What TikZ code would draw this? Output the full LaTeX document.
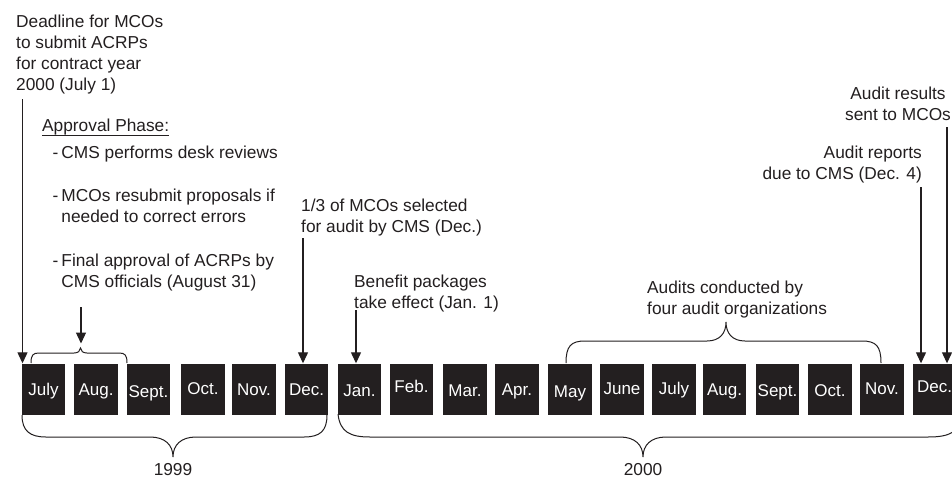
\documentclass[tikz,border=0pt]{standalone}
\usepackage{fontspec}
\setmainfont{Liberation Sans}
\usetikzlibrary{arrows.meta}
\definecolor{ink}{HTML}{231F20}
\begin{document}
\begin{tikzpicture}[x=1pt,y=-1pt,
  txt/.style={inner sep=0pt, text=ink, font=\fontsize{17.3}{21}\selectfont},
  mon/.style={fill=ink, text=white, inner sep=0pt, minimum width=43.5pt, minimum height=51pt,
              text depth=0pt, font=\fontsize{17}{20}\selectfont},
  arr/.style={draw=ink, line width=1.2pt, -{Triangle[length=11pt,width=10pt]}},
  brace/.style={draw=ink, line width=1pt}]
\path[use as bounding box, fill=white] (0,0) rectangle (952,479);

% month boxes
\node[mon, text height=12pt] (m1)  at (43.5,389)  {July};
\node[mon, text height=12pt] (m2)  at (96,389)    {Aug.};
\node[mon, text height=16pt] (m3)  at (148.5,389) {Sept.};
\node[mon, text height=10pt] (m4)  at (203,389)   {Oct.};
\node[mon, text height=12pt] (m5)  at (254,389)   {Nov.};
\node[mon, text height=12pt] (m6)  at (306.5,389) {Dec.};
\node[mon, text height=14pt] (m7)  at (359.5,389) {Jan.};
\node[mon, text height=6pt]  (m8)  at (411.5,389) {Feb.};
\node[mon, text height=14pt] (m9)  at (465,389)   {Mar.};
\node[mon, text height=12pt] (m10) at (517,389)   {Apr.};
\node[mon, text height=16pt] (m11) at (570,389)   {May};
\node[mon, text height=10pt] (m12) at (622,389)   {June};
\node[mon, text height=10pt] (m13) at (674,389)   {July};
\node[mon, text height=12pt] (m14) at (724.5,389) {Aug.};
\node[mon, text height=14pt] (m15) at (777.5,389) {Sept.};
\node[mon, text height=14pt] (m16) at (830,389)   {Oct.};
\node[mon, text height=10pt] (m17) at (882,389)   {Nov.};
\node[mon, text height=6pt]  (m18) at (934.5,389) {Dec.};

% texts
\node[txt, anchor=base west] (deadline) at (16,27.3)
  {\begin{tabular}[t]{@{}l@{}}Deadline for MCOs\\to submit ACRPs\\for contract year\\2000 (July 1)\end{tabular}};
\node[txt, anchor=base west] (appr) at (42,131.7) {Approval Phase:};
\draw[ink, line width=0.9pt] ([yshift=-3.6pt]appr.base west) -- ([yshift=-3.6pt]appr.base east);
\node[txt, anchor=base west] (i1) at (52.5,158.3)
  {\begin{tabular}[t]{@{}l@{\hspace{3pt}}l@{}}-&CMS performs desk reviews\end{tabular}};
\node[txt, anchor=base west] (i2) at (52.5,201.7)
  {\begin{tabular}[t]{@{}l@{\hspace{3pt}}l@{}}-&MCOs resubmit proposals if\\&needed to correct errors\end{tabular}};
\node[txt, anchor=base west] (i3) at (52.5,266)
  {\begin{tabular}[t]{@{}l@{\hspace{3pt}}l@{}}-&Final approval of ACRPs by\\&CMS officials (August 31)\end{tabular}};
\node[txt, anchor=base west] (sel) at (301,211.7)
  {\begin{tabular}[t]{@{}l@{}}1/3 of MCOs selected\\for audit by CMS (Dec.)\end{tabular}};
\node[txt, anchor=base west] (ben) at (354,287.5)
  {\begin{tabular}[t]{@{}l@{}}Benefit packages\\take effect (Jan. 1)\end{tabular}};
\node[txt, anchor=base west] (aud) at (647,293.5)
  {\begin{tabular}[t]{@{}l@{}}Audits conducted by\\four audit organizations\end{tabular}};
\node[txt, anchor=base] (res) at (898,99.3)
  {\begin{tabular}[t]{@{}c@{}}Audit results\\sent to MCOs\end{tabular}};
\node[txt, anchor=base east] (rep) at (922,158.3)
  {\begin{tabular}[t]{@{}r@{}}Audit reports\hspace{5pt}\\due to CMS (Dec. 4)\end{tabular}};
\node[txt, anchor=base] (y1999) at (173,475) {1999};
\node[txt, anchor=base] (y2000) at (643,475) {2000};

% arrows
\coordinate (a1) at (22.5,99);
\coordinate (a2) at (81,307);
\coordinate (bk1) at (80.5,348);
\coordinate (a3) at (303,238);
\coordinate (a4) at (356,310);
\coordinate (a5) at (921,187);
\coordinate (a6) at (947,127);
\draw[arr] (a1) -- (a1 |- m1.north);
\draw[arr, shorten >=4.5pt] (a2) -- (a2 |- bk1);
\draw[arr] (a3) -- (a3 |- m6.north);
\draw[arr] (a4) -- (a4 |- m7.north);
\draw[arr] (a5) -- (a5 |- m18.north);
\draw[arr] (a6) -- (a6 |- m18.north);

% braces
\draw[brace] (31,363) .. controls (31,355) and (33,353) .. (39,353) -- (74,353)
  .. controls (78,353) and (80.5,351) .. (bk1)
  .. controls (80.5,351) and (83,353) .. (87,353) -- (119,353)
  .. controls (125,353) and (127,355) .. (127,363);
\draw[brace] (566,363) .. controls (566,346) and (571,341) .. (585,341) -- (707,341)
  .. controls (720,341) and (726,333) .. (726,322)
  .. controls (726,333) and (732,341) .. (745,341) -- (862,341)
  .. controls (876,341) and (881,346) .. (881,363);
\draw[brace] (22,415) .. controls (22,431) and (30,437) .. (46,437) -- (150,437)
  .. controls (165,437) and (173,445) .. (173,457)
  .. controls (173,445) and (181,437) .. (196,437) -- (304,437)
  .. controls (320,437) and (327,431) .. (327,415);
\draw[brace] (338,414) .. controls (340,432) and (350,437) .. (370,437) -- (620,437)
  .. controls (635,437) and (643,445) .. (643,457)
  .. controls (643,445) and (651,437) .. (666,437) -- (928,437)
  .. controls (950,437) and (960,432) .. (962,414);
\end{tikzpicture}
\end{document}
